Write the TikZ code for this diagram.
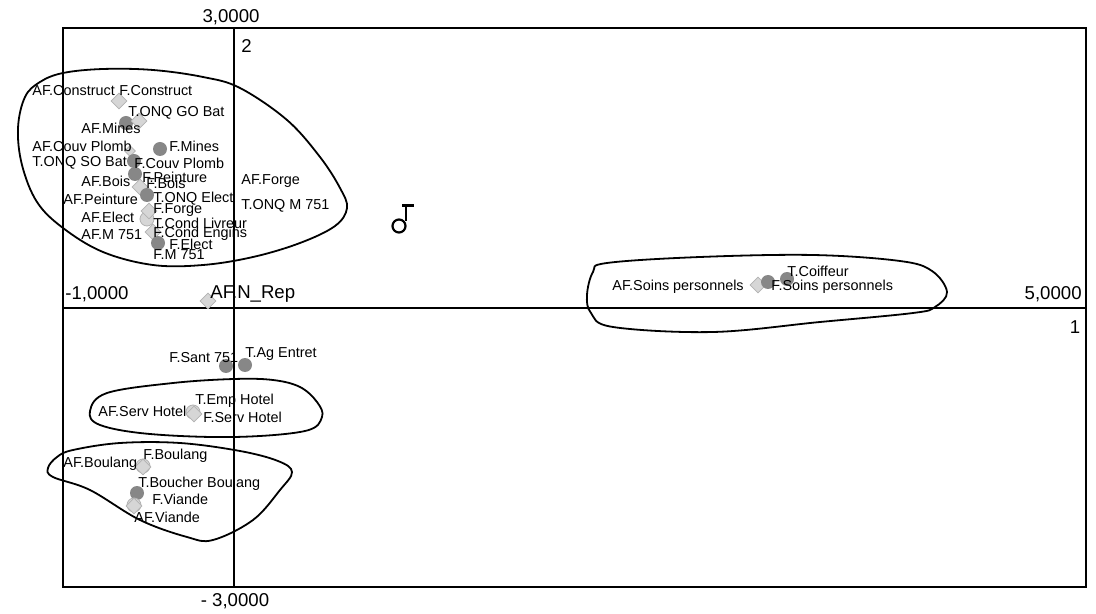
\documentclass[tikz,border=0pt]{standalone}
\usepackage{fontspec}
\setmainfont{Liberation Sans}
\usetikzlibrary{shapes.geometric}
\newlength{\du}
\setlength{\du}{0.5pt}
\definecolor{dotcolor}{rgb}{0.530000, 0.530000, 0.530000}
\definecolor{palecolor}{rgb}{0.840000, 0.840000, 0.840000}
\definecolor{paleline}{rgb}{0.700000, 0.700000, 0.700000}
\tikzset{
  dot/.style={circle,fill=dotcolor,inner sep=0pt,minimum size=14\du},
  pale/.style={diamond,fill=palecolor,draw=paleline,line width=0.4pt,inner sep=0pt,minimum size=16\du},
  palering/.style={circle,fill=palecolor,draw=paleline,line width=0.4pt,inner sep=0pt,minimum size=14\du},
  lbl/.style={anchor=west,inner sep=0pt,font=\fontsize{7.2}{8}\selectfont},
  axlbl/.style={inner sep=0pt,font=\fontsize{9.3}{11}\selectfont},
  hull/.style={line width=0.9pt},
}

\begin{document}
\begin{tikzpicture}
\pgftransformxscale{1.000000}
\pgftransformyscale{-1.000000}
\fill[white] (0\du,0\du) rectangle (1096\du,614\du);
\useasboundingbox (0\du,0\du) rectangle (1096\du,614\du);
% frame and axes
\coordinate (nw) at (63\du,28\du);
\coordinate (se) at (1086\du,587\du);
\coordinate (xleft) at (63\du,308\du);
\coordinate (xright) at (1086\du,308\du);
\coordinate (ytop) at (234\du,28\du);
\coordinate (ybot) at (234\du,587\du);
\draw[line width=0.9pt] (nw) rectangle (se);
\draw[line width=0.9pt] (xleft) -- (xright);
\draw[line width=0.9pt] (ytop) -- (ybot);
\node[axlbl] (ymax) at (231\du,17\du){3,0000};
\node[axlbl,anchor=west] (ynum) at (241\du,46\du){2};
\node[axlbl,anchor=west] (xmin) at (65\du,294\du){-1,0000};
\node[axlbl,anchor=east] (xmax) at (1082\du,294\du){5,0000};
\node[axlbl] (xnum) at (1075\du,327\du){1};
\node[axlbl] (ymin) at (235\du,601\du){- 3,0000};
% points
\node[pale] (pconstruct) at (119\du,101\du){};
\node[dot] (ponqgo) at (126\du,123\du){};
\node[pale] (pmines) at (139\du,121\du){};
\node[dot] (pfmines) at (160\du,149\du){};
\node[pale,minimum size=11\du] (pcouv) at (130\du,151\du){};
\node[dot] (ponqso) at (134\du,161\du){};
\node[dot] (pfcouv) at (135\du,174\du){};
\node[pale] (pbois) at (140\du,187\du){};
\node[dot] (ponqelect) at (147\du,195\du){};
\node[palering] (pforge) at (147\du,219\du){};
\node[pale] (pelect) at (149\du,211\du){};
\node[pale] (pcond) at (153\du,232\du){};
\node[dot] (pfelect) at (158\du,243\du){};
\node[pale] (pnrep) at (208\du,301\du){};
\node[dot] (psant) at (226\du,366\du){};
\node[dot] (pagentret) at (245\du,365\du){};
\node[palering] (photel) at (193\du,412\du){};
\node[pale] (pservhotel) at (194\du,414\du){};
\node[palering] (pboulang) at (143\du,466\du){};
\node[pale] (pfboulang) at (143\du,467\du){};
\node[dot] (pboucher) at (137\du,493\du){};
\node[palering] (pviande) at (134\du,505\du){};
\node[pale] (pafviande) at (134\du,506\du){};
\node[pale] (pafsoins) at (758\du,285\du){};
\node[dot] (pfsoins) at (768\du,282\du){};
\node[dot] (pcoiffeur) at (787\du,279\du){};
% labels
\node[lbl] (afconstruct) at (32\du,91\du){AF.Construct};
\node[lbl] (fconstruct) at (119\du,91\du){F.Construct};
\node[lbl] (tonqgo) at (128\du,113\du){T.ONQ GO Bat};
\node[lbl] (afmines) at (81\du,128\du){AF.Mines};
\node[lbl] (afcouv) at (32\du,146\du){AF.Couv Plomb};
\node[lbl] (fmines) at (169\du,146\du){F.Mines};
\node[lbl] (tonqso) at (32\du,163\du){T.ONQ SO Bat};
\node[lbl] (fcouv) at (134\du,163\du){F.Couv Plomb};
\node[lbl] (fpeinture) at (142\du,177\du){F.Peinture};
\node[lbl] (afbois) at (81\du,181\du){AF.Bois};
\node[lbl] (fbois) at (146\du,183\du){F.Bois};
\node[lbl] (afforge) at (241\du,181\du){AF.Forge};
\node[lbl] (afpeinture) at (63\du,199\du){AF.Peinture};
\node[lbl] (tonqelect) at (153\du,199\du){T.ONQ Elect};
\node[lbl] (tonqm) at (241\du,206\du){T.ONQ M 751};
\node[lbl] (fforge) at (153\du,210\du){F.Forge};
\node[lbl] (afelect) at (81\du,217\du){AF.Elect};
\node[lbl] (tcond) at (153\du,223\du){T.Cond Livreur};
\node[lbl] (fcond) at (153\du,234\du){F.Cond Engins};
\node[lbl] (afm) at (81\du,235\du){AF.M 751};
\node[lbl] (felect) at (169\du,244\du){F.Elect};
\node[lbl] (fm) at (153\du,255\du){F.M 751};
\node[axlbl,anchor=west] (afnrep) at (210\du,294\du){AF.N\_Rep};
\node[lbl] (tcoiffeur) at (787\du,271\du){T.Coiffeur};
\node[lbl] (afsoins) at (612\du,287\du){AF.Soins personnels};
\node[lbl] (fsoins) at (771\du,287\du){F.Soins personnels};
\node[lbl] (tagentret) at (245\du,354\du){T.Ag Entret};
\node[lbl] (fsant) at (169\du,358\du){F.Sant 751};
\node[lbl] (temphotel) at (195\du,401\du){T.Emp Hotel};
\node[lbl] (afservhotel) at (98\du,411\du){AF.Serv Hotel};
\node[lbl] (fservhotel) at (203\du,417\du){F.Serv Hotel};
\node[lbl] (fboulang) at (143\du,456\du){F.Boulang};
\node[lbl] (afboulang) at (63\du,464\du){AF.Boulang};
\node[lbl] (tboucher) at (138\du,484\du){T.Boucher Boulang};
\node[lbl] (fviande) at (152\du,499\du){F.Viande};
\node[lbl] (afviande) at (134\du,517\du){AF.Viande};
% odd marker
\node[circle,draw,line width=1.1pt,inner sep=0pt,minimum size=13\du] (marker) at (399\du,226\du){};
\coordinate (barl) at (402\du,206\du);
\coordinate (barr) at (414\du,206\du);
\coordinate (stemt) at (406\du,206\du);
\coordinate (stemb) at (406\du,221\du);
\draw[line width=1.5pt] (barl) -- (barr);
\draw[line width=1.1pt] (stemt) -- (stemb);
% groups
\draw[hull] plot[smooth cycle,tension=0.6] coordinates {(40\du,82\du) (63\du,73\du) (103\du,69\du) (153\du,70\du) (203\du,77\du) (240\du,88\du) (287\du,120\du) (320\du,157\du) (340\du,188\du) (347\du,208\du) (335\du,226\du) (300\du,243\du) (253\du,257\du) (203\du,265\du) (153\du,265\du) (103\du,252\du) (63\du,228\du) (37\du,202\du) (22\du,165\du) (18\du,128\du) (25\du,97\du)};
\draw[hull] plot[smooth cycle,tension=0.6] coordinates {(607\du,263\du) (700\du,257\du) (813\du,255\du) (900\du,261\du) (932\du,271\du) (947\du,292\du) (935\du,307\du) (913\du,313\du) (820\du,322\du) (713\du,332\du) (613\du,327\du) (591\du,313\du) (587\du,295\du) (593\du,272\du)};
\draw[hull] plot[smooth cycle,tension=0.6] coordinates {(107\du,393\du) (173\du,383\du) (234\du,379\du) (273\du,380\du) (300\du,387\du) (317\du,402\du) (322\du,417\du) (305\du,431\du) (234\du,437\du) (150\du,434\du) (100\du,425\du) (90\du,411\du)};
\draw[hull] plot[smooth cycle,tension=0.6] coordinates {(73\du,450\du) (120\du,443\du) (180\du,443\du) (240\du,451\du) (278\du,461\du) (292\du,472\du) (280\du,490\du) (253\du,520\du) (213\du,540\du) (187\du,537\du) (140\du,520\du) (90\du,490\du) (53\du,477\du) (48\du,468\du) (57\du,457\du)};
\end{tikzpicture}
\end{document}
